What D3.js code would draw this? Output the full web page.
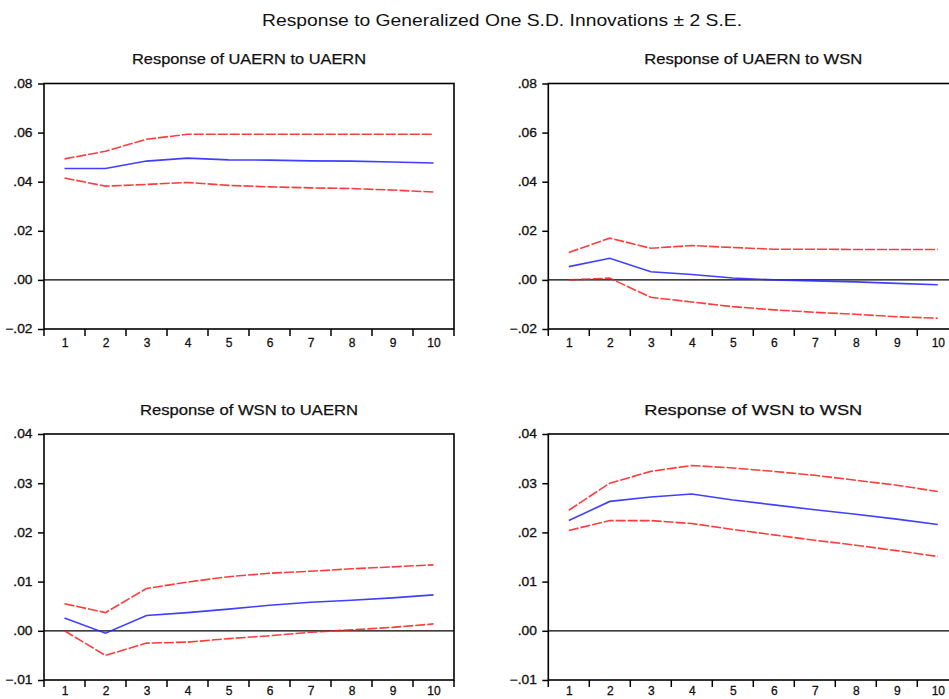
<!DOCTYPE html>
<html>
<head>
<meta charset="utf-8">
<script src="https://cdn.jsdelivr.net/npm/d3@7"></script>
<style>
  html, body { margin: 0; padding: 0; background: #fff; }
  svg { display: block; }
  text { font-family: "Liberation Sans", Arial, sans-serif; fill: #111; }
</style>
</head>
<body>
<svg id="chart" width="949" height="699"></svg>
<script>
// ---------- data ----------
const mainTitle = "Response to Generalized One S.D. Innovations \u00B1 2 S.E.";
const periods = [1, 2, 3, 4, 5, 6, 7, 8, 9, 10];
const panelTitles = [
  "Response of UAERN to UAERN",
  "Response of UAERN to WSN",
  "Response of WSN to UAERN",
  "Response of WSN to WSN"
];
const yTicksTop = [-0.02, 0.00, 0.02, 0.04, 0.06, 0.08];
const yTicksBottom = [-0.01, 0.00, 0.01, 0.02, 0.03, 0.04];

// Response of UAERN to UAERN
const uaUaUpper = [0.0493, 0.0524, 0.0573, 0.0593, 0.0593, 0.0593, 0.0593, 0.0593, 0.0593, 0.0593];
const uaUaResp  = [0.0454, 0.0454, 0.0484, 0.0496, 0.0489, 0.0488, 0.0485, 0.0484, 0.0480, 0.0476];
const uaUaLower = [0.0415, 0.0382, 0.0389, 0.0397, 0.0385, 0.0379, 0.0375, 0.0372, 0.0366, 0.0358];

// Response of UAERN to WSN
const uaWsUpper = [0.0112, 0.0170, 0.0129, 0.0140, 0.0132, 0.0125, 0.0125, 0.0124, 0.0124, 0.0124];
const uaWsResp  = [0.0054, 0.0088, 0.0033, 0.0022, 0.0008, 0.0000, -0.0004, -0.0008, -0.0014, -0.0020];
const uaWsLower = [0.0000, 0.0007, -0.0071, -0.0090, -0.0109, -0.0122, -0.0132, -0.0140, -0.0150, -0.0156];

// Response of WSN to UAERN
const wsUaUpper = [0.0055, 0.0037, 0.0086, 0.0099, 0.0110, 0.0117, 0.0121, 0.0126, 0.0130, 0.0134];
const wsUaResp  = [0.0026, -0.0005, 0.0031, 0.0037, 0.0044, 0.0052, 0.0058, 0.0062, 0.0067, 0.0073];
const wsUaLower = [0.0000, -0.0050, -0.0025, -0.0023, -0.0016, -0.0010, -0.0003, 0.0002, 0.0007, 0.0014];

// Response of WSN to WSN
const wsWsUpper = [0.0245, 0.0300, 0.0324, 0.0336, 0.0331, 0.0324, 0.0316, 0.0306, 0.0296, 0.0283];
const wsWsResp  = [0.0224, 0.0263, 0.0272, 0.0278, 0.0266, 0.0256, 0.0246, 0.0237, 0.0227, 0.0216];
const wsWsLower = [0.0204, 0.0224, 0.0224, 0.0218, 0.0206, 0.0195, 0.0184, 0.0174, 0.0163, 0.0151];

// ---------- layout ----------
const svg = d3.select("#chart");
const PW = 410;
const panels = [
  { title: panelTitles[0], x0: 44,    y0: 83.5, y1: 329, dom: [-0.02, 0.08], ticks: yTicksTop,    pad: 9, up: uaUaUpper, mid: uaUaResp, lo: uaUaLower },
  { title: panelTitles[1], x0: 548.3, y0: 83.5, y1: 329, dom: [-0.02, 0.08], ticks: yTicksTop,    pad: 9, up: uaWsUpper, mid: uaWsResp, lo: uaWsLower },
  { title: panelTitles[2], x0: 44,    y0: 434,  y1: 680, dom: [-0.01, 0.04], ticks: yTicksBottom, pad: 6, up: wsUaUpper, mid: wsUaResp, lo: wsUaLower },
  { title: panelTitles[3], x0: 548.3, y0: 434,  y1: 680, dom: [-0.01, 0.04], ticks: yTicksBottom, pad: 6, up: wsWsUpper, mid: wsWsResp, lo: wsWsLower }
];

const fmt = v => {
  const s = d3.format(".2f")(Math.abs(v) < 1e-9 ? 0 : v);
  return s.replace("0.", ".");
};

svg.append("text")
  .attr("x", 502).attr("y", 26)
  .attr("text-anchor", "middle")
  .attr("font-size", 17)
  .attr("textLength", 480).attr("lengthAdjust", "spacingAndGlyphs")
  .text(mainTitle);

panels.forEach(p => {
  const g = svg.append("g");
  const x = d3.scaleLinear().domain([0.5, 10.5]).range([p.x0, p.x0 + PW]);
  const y = d3.scaleLinear().domain(p.dom).range([p.y1, p.y0]);

  // title
  g.append("text")
    .attr("x", p.x0 + PW / 2).attr("y", p.y0 - 19.5)
    .attr("text-anchor", "middle")
    .attr("font-size", 15)
    .attr("stroke", "#111").attr("stroke-width", 0.25)
    .attr("textLength", p.title.length > 25 ? 234 : 218).attr("lengthAdjust", "spacingAndGlyphs")
    .text(p.title);

  // zero line
  g.append("line")
    .attr("x1", x(0.5)).attr("x2", x(10.5))
    .attr("y1", y(0)).attr("y2", y(0))
    .attr("stroke", "#000").attr("stroke-width", 1.3);

  // frame
  g.append("rect")
    .attr("x", p.x0).attr("y", p.y0)
    .attr("width", PW).attr("height", p.y1 - p.y0)
    .attr("fill", "none").attr("stroke", "#000").attr("stroke-width", 1.6);

  // y axis
  const yAxis = d3.axisLeft(y).tickValues(p.ticks).tickSize(6).tickPadding(5).tickFormat(fmt);
  const ya = g.append("g").attr("transform", `translate(${p.x0},0)`).call(yAxis);
  ya.select(".domain").remove();
  ya.selectAll("line").attr("stroke", "#000").attr("stroke-width", 1.5);
  ya.selectAll("text").attr("font-size", 12).attr("font-family", "Liberation Sans, Arial, sans-serif")
    .attr("fill", "#111").attr("stroke", "#111").attr("stroke-width", 0.3)
    .attr("transform", "scale(1.15,1)").attr("x", -11.5 / 1.15);

  // x ticks at band boundaries
  const bounds = d3.range(0.5, 11, 1);
  g.selectAll("line.xt").data(bounds).join("line")
    .attr("class", "xt")
    .attr("x1", d => x(d)).attr("x2", d => x(d))
    .attr("y1", p.y1).attr("y2", p.y1 + 7)
    .attr("stroke", "#000").attr("stroke-width", 1.5);

  // x labels
  const xAxis = d3.axisBottom(x).tickValues(periods).tickSize(0).tickPadding(p.pad).tickFormat(d3.format("d"));
  const xa = g.append("g").attr("transform", `translate(0,${p.y1})`).call(xAxis);
  xa.select(".domain").remove();
  xa.selectAll("text").attr("font-size", 12).attr("fill", "#111")
    .attr("stroke", "#111").attr("stroke-width", 0.3)
    .attr("font-family", "Liberation Sans, Arial, sans-serif");

  const line = d3.line().x((d, i) => x(periods[i])).y(d => y(d));

  g.append("path").datum(p.up).attr("d", line)
    .attr("fill", "none").attr("stroke", "#ff1a1a").attr("stroke-width", 1.6)
    .attr("stroke-opacity", 0.85).attr("stroke-dasharray", "10,2");
  g.append("path").datum(p.lo).attr("d", line)
    .attr("fill", "none").attr("stroke", "#ff1a1a").attr("stroke-width", 1.6)
    .attr("stroke-opacity", 0.85).attr("stroke-dasharray", "10,2");
  g.append("path").datum(p.mid).attr("d", line)
    .attr("fill", "none").attr("stroke", "#2a2aff").attr("stroke-width", 1.6)
    .attr("stroke-opacity", 0.9);
});
</script>
</body>
</html>
